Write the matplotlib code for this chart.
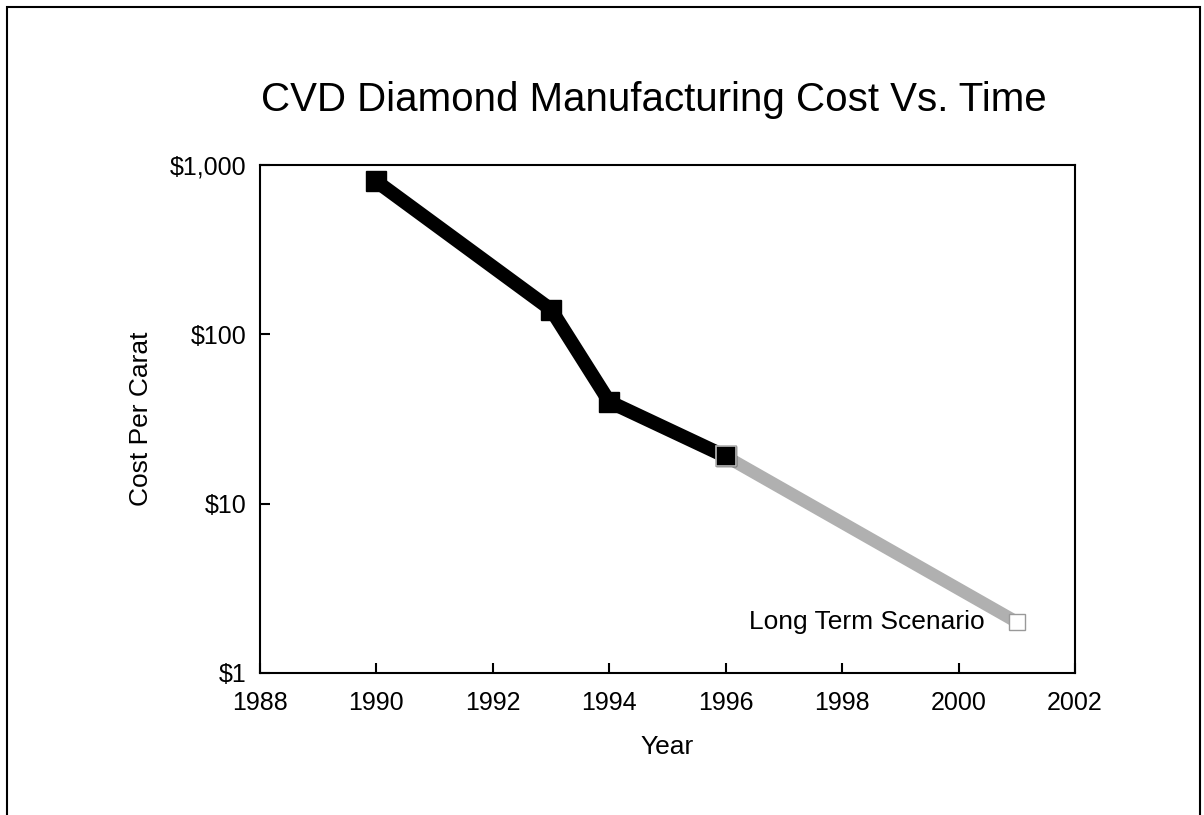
import matplotlib
matplotlib.use("Agg")
import matplotlib.pyplot as plt
from matplotlib.patches import Rectangle
from matplotlib.ticker import FixedLocator, NullLocator

years_actual = [1990, 1993, 1994, 1996]
cost_actual = [800, 140, 40, 19]
years_proj = [1996, 2001]
cost_proj = [19, 2]
xticks = [1988, 1990, 1992, 1994, 1996, 1998, 2000, 2002]
yticks = [1, 10, 100, 1000]
ytick_labels = ["$1", "$10", "$100", "$1,000"]

plt.rcParams['font.family'] = ['Liberation Sans', 'DejaVu Sans']

fig = plt.figure(figsize=(12.04, 8.15), dpi=100)
fig.patches.append(Rectangle((7/1204, -0.01), (1200-7)/1204, 1 - 7/815 + 0.01,
                             transform=fig.transFigure, fill=False,
                             edgecolor='black', linewidth=1.5))

ax = fig.add_axes([260/1204, 1 - 673/815, (1075-260)/1204, (673-165)/815])
ax.set_yscale('log')
ax.set_xlim(1988, 2002)
ax.set_ylim(1, 1000)

ax.plot(years_proj, cost_proj, color='#b0b0b0', linewidth=9, solid_capstyle='butt', zorder=2)
ax.plot(years_proj[-1:], cost_proj[-1:], marker='s', markersize=11, markerfacecolor='white',
        markeredgecolor='#999999', markeredgewidth=1, linestyle='none', zorder=3)
ax.plot(years_actual, cost_actual, color='black', linewidth=10, solid_joinstyle='round',
        marker='s', markersize=14, zorder=4)
ax.plot(years_actual[-1:], cost_actual[-1:], marker='s', markersize=14, markerfacecolor='black',
        markeredgecolor='#bbbbbb', markeredgewidth=1.2, linestyle='none', zorder=5)

ax.xaxis.set_major_locator(FixedLocator(xticks))
ax.yaxis.set_major_locator(FixedLocator(yticks))
ax.yaxis.set_minor_locator(NullLocator())
ax.set_xticklabels([str(x) for x in xticks])
ax.set_yticklabels(ytick_labels)
ax.tick_params(direction='in', length=7, width=1.5, labelsize=18)
ax.tick_params(axis='x', pad=13)
ax.tick_params(axis='y', pad=10)
for s in ax.spines.values():
    s.set_linewidth(1.5)

ax.set_xlabel('Year', fontsize=19, labelpad=14)
ax.set_ylabel('Cost Per Carat', fontsize=19, labelpad=12)

fig.text(654/1204, 1 - 100/815, 'CVD Diamond Manufacturing Cost Vs. Time', fontsize=29,
         ha='center', va='center')
ax.text(2000.45, 2.0, 'Long Term Scenario', fontsize=19, ha='right', va='center')

fig.savefig('out.png', dpi=100)
